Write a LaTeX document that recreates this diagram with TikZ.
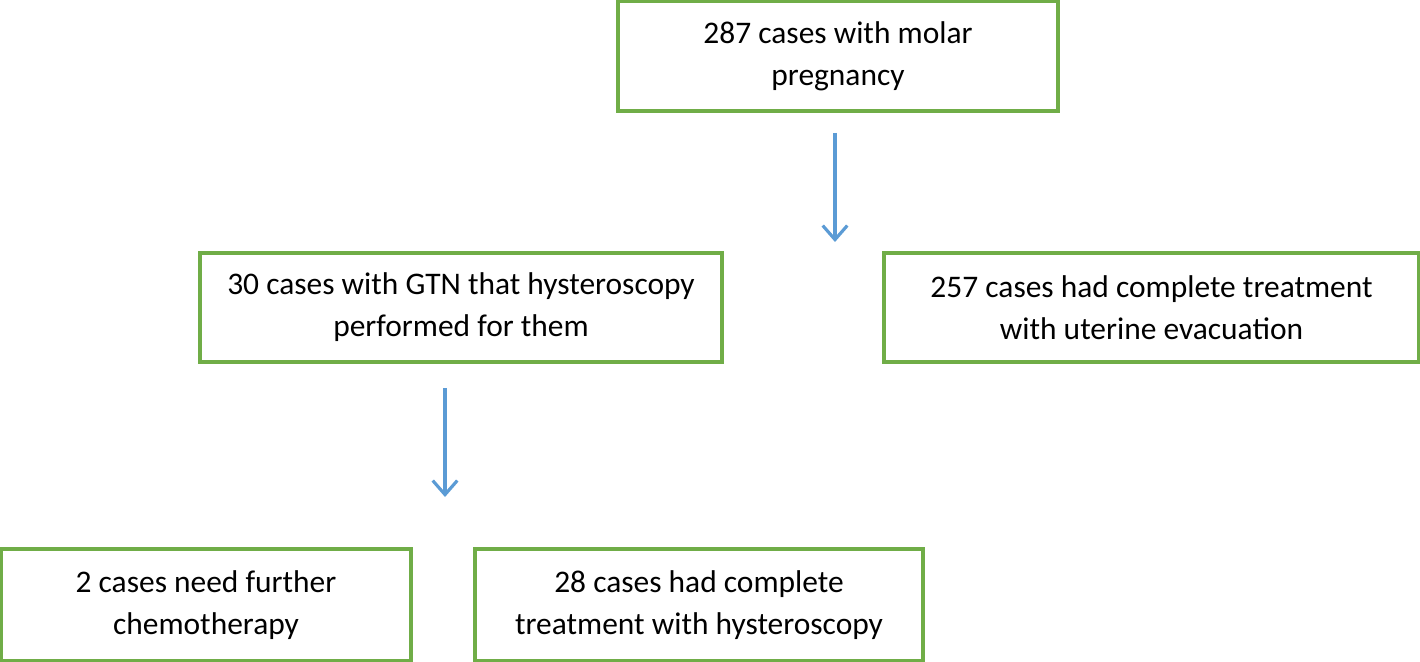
\documentclass[tikz,border=0pt]{standalone}
\usepackage{fontspec}
\setmainfont{Carlito}
\usepackage{tikz}
\usetikzlibrary{arrows.meta}
\definecolor{boxgreen}{RGB}{112,173,71}
\definecolor{arrowblue}{RGB}{91,155,213}

\begin{document}
\begin{tikzpicture}[x=0.02cm,y=-0.02cm,
    casebox/.style={draw=boxgreen,line width=1.8pt,fill=white,align=center,inner sep=0pt,font=\fontsize{17.9}{24}\selectfont},
    flow/.style={draw=arrowblue,line width=1.8pt,-{Straight Barb[length=8pt,width=14pt,line width=1.8pt]}}]
            \useasboundingbox (0,0) rectangle (1420,662);
            \node[casebox,minimum width=440*0.02cm,minimum height=110*0.02cm] (molar) at (838,56) {287 cases with molar\\pregnancy};
            \node[casebox,minimum width=522*0.02cm,minimum height=109*0.02cm] (gtn) at (461,307.5) {30 cases with GTN that hysteroscopy\\performed for them};
            \node[casebox,minimum width=535*0.02cm,minimum height=109*0.02cm] (evac) at (1151.5,307.5) {257 cases had complete treatment\\with uterine evacuation};
            \node[casebox,minimum width=410*0.02cm,minimum height=112*0.02cm] (chemo) at (206,605) {2 cases need further\\chemotherapy};
            \node[casebox,minimum width=448*0.02cm,minimum height=112*0.02cm] (hyst) at (699,605) {28 cases had complete\\treatment with hysteroscopy};
            \coordinate (a1) at (835,133);
            \coordinate (b1) at (835,242);
            \coordinate (a2) at (445,388);
            \coordinate (b2) at (445,497);
            \draw[flow] (a1) -- (b1);
            \draw[flow] (a2) -- (b2);
        \end{tikzpicture}
\end{document}
